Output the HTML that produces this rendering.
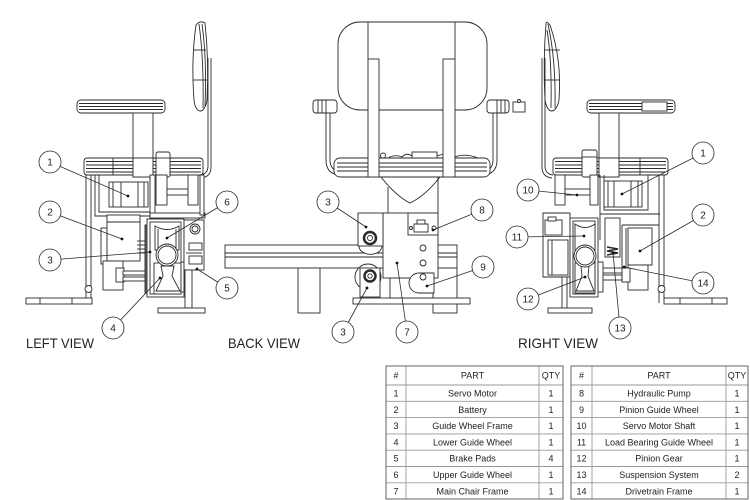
<!DOCTYPE html>
<html><head><meta charset="utf-8">
<style>
html,body{margin:0;padding:0;background:#fff;}
svg{display:block}
text{font-family:"Liberation Sans",sans-serif;fill:#222;stroke:none}
</style></head><body>
<svg width="750" height="500" viewBox="0 0 750 500" xmlns="http://www.w3.org/2000/svg">
<rect x="0" y="0" width="750" height="500" fill="#fff"/>

<!-- ================= LEFT VIEW ================= -->
<g fill="#fff" stroke="#2a2a2a" stroke-width="0.9">
  <!-- backrest -->
  <path d="M196,25 Q200,20 205,23 Q209,60 207,100 Q205,111 200,111 Q195,110 194,100 Q191,60 196,25 Z"/>
  <path d="M199,24 Q204,60 203,108" fill="none"/>
  <path d="M202,24 Q207,60 205,106" fill="none"/>
  <line x1="193" y1="50" x2="206" y2="50"/>
  <line x1="193" y1="80" x2="207" y2="80"/>
  <!-- back post -->
  <path d="M208,58 V166 Q208,174 200,175" fill="none"/>
  <path d="M211,58 V167 Q211,177 201,178" fill="none"/>
  <!-- armrest -->
  <rect x="77" y="100" width="88" height="13" rx="4"/>
  <line x1="79" y1="103.5" x2="163" y2="103.5"/>
  <line x1="79" y1="106.5" x2="163" y2="106.5"/>
  <line x1="79" y1="109.5" x2="163" y2="109.5"/>
  <!-- armrest post -->
  <rect x="133" y="113" width="20" height="64"/>
  <!-- seat -->
  <rect x="84" y="158" width="119" height="17" rx="3"/>
  <line x1="86" y1="161.5" x2="201" y2="161.5"/>
  <line x1="86" y1="165" x2="201" y2="165"/>
  <line x1="86" y1="168.5" x2="201" y2="168.5"/>
  <line x1="86" y1="172" x2="201" y2="172"/>
  <line x1="113" y1="158" x2="113" y2="175"/>
  <line x1="170" y1="158" x2="170" y2="175"/>
  <rect x="133" y="158" width="20" height="19"/>
  <!-- clamp -->
  <rect x="156" y="152" width="14" height="25" rx="2"/>
  <line x1="156" y1="158" x2="170" y2="158"/>
  <!-- left frame -->
  <line x1="86" y1="175" x2="86" y2="302"/>
  <line x1="91" y1="175" x2="91" y2="298"/>
  <circle cx="88.5" cy="289" r="3.5"/>
  <rect x="26" y="298" width="66" height="6"/>
  <line x1="40" y1="298" x2="40" y2="304"/>
  <line x1="72" y1="298" x2="72" y2="304"/>
  <!-- motor bracket -->
  <path d="M95,175 V216 H150" fill="none"/>
  <path d="M99,175 V212 H150" fill="none"/>
  <rect x="109" y="182" width="39" height="25"/>
  <line x1="113" y1="182" x2="113" y2="207"/>
  <line x1="121" y1="182" x2="121" y2="207"/>
  <line x1="138" y1="182" x2="138" y2="207"/>
  <line x1="144" y1="182" x2="144" y2="207"/>
  <rect x="150" y="175" width="5" height="43"/>
  <rect x="156" y="175" width="11" height="30"/>
  <rect x="167" y="189" width="21" height="6"/>
  <rect x="188" y="175" width="10" height="30"/>
  <rect x="150" y="213" width="55" height="5"/>
  <rect x="200" y="175" width="4" height="40"/>
  <!-- battery -->
  <rect x="101" y="228" width="6" height="36"/>
  <rect x="107" y="215" width="33" height="46"/>
  <line x1="107" y1="222" x2="140" y2="222"/>
  <rect x="103" y="261" width="20" height="29"/>
  <rect x="116" y="268" width="8" height="14"/>
  <rect x="123" y="271" width="24" height="4"/>
  <rect x="123" y="277" width="24" height="4"/>
  <line x1="137" y1="241" x2="147" y2="241"/>
  <line x1="137" y1="245" x2="147" y2="245"/>
  <line x1="137" y1="249" x2="147" y2="249"/>
  <line x1="137" y1="253" x2="147" y2="253"/>
  <!-- wheel frame -->
  <rect x="145" y="225" width="3" height="68" fill="#666"/>
  <rect x="147" y="219" width="37" height="78"/>
  <rect x="150" y="222" width="31" height="72"/>
  <path d="M155,226 Q167,233 179,226 V250 H155 Z"/>
  <line x1="158" y1="229" x2="158" y2="250"/>
  <line x1="176" y1="229" x2="176" y2="250"/>
  <rect x="154" y="263" width="27" height="31"/>
  <path d="M161,266 L163,276 L156,291 L180,291 L172,276 L174,266 Z"/>
  <rect x="181" y="262" width="3" height="30"/>
  <circle cx="167" cy="255" r="11"/>
  <circle cx="167" cy="255" r="9"/>
  <!-- brake area -->
  <rect x="184" y="220" width="20" height="50"/>
  <circle cx="195" cy="229" r="5"/>
  <circle cx="195" cy="229" r="3"/>
  <rect x="189" y="243" width="13" height="7"/>
  <rect x="189" y="256" width="13" height="8"/>
  <line x1="186" y1="253" x2="202" y2="253"/>
  <!-- T beam -->
  <rect x="185" y="270" width="7" height="38"/>
  <rect x="158" y="308" width="47" height="5"/>
</g>

<!-- ================= BACK VIEW ================= -->
<g fill="#fff" stroke="#2a2a2a" stroke-width="0.9">
  <!-- rail -->
  <rect x="225" y="245" width="232" height="23"/>
  <line x1="225" y1="253" x2="457" y2="253"/>
  <line x1="225" y1="257" x2="457" y2="257"/>
  <rect x="298" y="268" width="22" height="45"/>
  <rect x="433" y="268" width="24" height="45"/>
  <rect x="353" y="298" width="117" height="6"/>
  <rect x="390" y="278" width="43" height="20"/>
  <!-- backrest -->
  <rect x="338" y="22" width="149" height="88" rx="22"/>
  <line x1="368" y1="22" x2="368" y2="59"/>
  <line x1="455" y1="22" x2="455" y2="59"/>
  <!-- armrests -->
  <path d="M326,113 V160 Q326,173 338,175" fill="none"/>
  <path d="M330,113 V160 Q330,170 340,172" fill="none"/>
  <path d="M497,113 V160 Q497,173 485,175" fill="none"/>
  <path d="M493,113 V160 Q493,170 483,172" fill="none"/>
  <rect x="313" y="100" width="24" height="13" rx="3"/>
  <line x1="318" y1="100" x2="318" y2="113"/>
  <line x1="322" y1="100" x2="322" y2="113"/>
  <line x1="326" y1="100" x2="326" y2="113"/>
  <rect x="487" y="100" width="22" height="13" rx="3"/>
  <line x1="497" y1="100" x2="497" y2="113"/>
  <line x1="501" y1="100" x2="501" y2="113"/>
  <line x1="505" y1="100" x2="505" y2="113"/>
  <rect x="513" y="102" width="12" height="10"/>
  <circle cx="519" cy="101" r="1.5"/>
  <!-- seat -->
  <rect x="334" y="158" width="156" height="19" rx="6"/>
  <line x1="337" y1="163" x2="487" y2="163"/>
  <line x1="337" y1="167" x2="487" y2="167"/>
  <line x1="337" y1="171" x2="487" y2="171"/>
  <circle cx="383" cy="155.5" r="2.5"/>
  <rect x="412" y="152" width="25" height="6"/>
  <path d="M388,158 Q395,154 402,157 Q407,152 412,156" fill="none"/>
  <path d="M437,156 Q447,152 455,157 Q465,153 478,158" fill="none"/>
  <!-- posts -->
  <rect x="368" y="59" width="11" height="118"/>
  <rect x="443" y="59" width="12" height="118"/>
  <!-- V and upper block -->
  <path d="M381,177 Q396,196 410,203 Q425,196 440,177" fill="none"/>
  <line x1="388" y1="187" x2="388" y2="213"/>
  <line x1="438" y1="177" x2="438" y2="213"/>
  <!-- main frame 7 -->
  <rect x="383" y="213" width="55" height="65"/>
  <rect x="408" y="213" width="30" height="22"/>
  <rect x="414" y="224" width="14" height="8"/>
  <rect x="417" y="220" width="8" height="4"/>
  <circle cx="411" cy="228" r="1.5"/>
  <circle cx="434" cy="228" r="2"/>
  <circle cx="423" cy="248" r="3"/>
  <circle cx="423" cy="263" r="3"/>
  <circle cx="423" cy="277" r="3"/>
  <!-- upper wheel 3 -->
  <path d="M359,246 A11,8 0 0 0 382,246" />
  <rect x="358" y="213" width="25" height="33"/>
  <circle cx="370" cy="238" r="6" stroke-width="2.5"/>
  <circle cx="370" cy="238" r="2.5"/>
  <!-- lower wheel 3 -->
  <circle cx="368" cy="277" r="13"/>
  <rect x="360" y="268" width="20" height="29"/>
  <circle cx="370" cy="276" r="5.5" stroke-width="2.5"/>
  <circle cx="370" cy="276" r="2.2"/>
  <!-- wheel 9 -->
  <path d="M434,273 H419 A10,10 0 0 0 419,293 H434 Z"/>
  <circle cx="423" cy="277" r="3"/>
</g>

<!-- ================= RIGHT VIEW ================= -->
<g fill="#fff" stroke="#2a2a2a" stroke-width="0.9">
  <!-- backrest -->
  <path d="M550,25 Q546,20 546,24 Q543,60 545,100 Q547,111 552,111 Q557,110 559,100 Q562,60 550,25 Z"/>
  <path d="M548,24 Q556,60 555,108" fill="none"/>
  <path d="M547,30 Q552,60 551,108" fill="none"/>
  <line x1="545" y1="50" x2="560" y2="50"/>
  <line x1="545" y1="80" x2="560" y2="80"/>
  <!-- back post -->
  <path d="M545,58 V166 Q545,174 553,175" fill="none"/>
  <path d="M542,58 V167 Q542,177 552,178" fill="none"/>
  <!-- armrest -->
  <rect x="587" y="100" width="88" height="13" rx="4"/>
  <line x1="589" y1="103.5" x2="673" y2="103.5"/>
  <line x1="589" y1="106.5" x2="673" y2="106.5"/>
  <line x1="589" y1="109.5" x2="673" y2="109.5"/>
  <rect x="642" y="102" width="25" height="9"/>
  <rect x="599" y="113" width="20" height="64"/>
  <!-- seat -->
  <rect x="553" y="158" width="115" height="17" rx="3"/>
  <line x1="555" y1="161.5" x2="666" y2="161.5"/>
  <line x1="555" y1="165" x2="666" y2="165"/>
  <line x1="555" y1="168.5" x2="666" y2="168.5"/>
  <line x1="555" y1="172" x2="666" y2="172"/>
  <line x1="640" y1="158" x2="640" y2="175"/>
  <rect x="599" y="158" width="20" height="19"/>
  <rect x="582" y="150" width="15" height="27" rx="2"/>
  <line x1="582" y1="157" x2="597" y2="157"/>
  <!-- 10 -->
  <rect x="555" y="175" width="10" height="30"/>
  <rect x="565" y="189" width="25" height="6"/>
  <rect x="590" y="175" width="8" height="30"/>
  <!-- motor bracket -->
  <path d="M600,175 V240" fill="none"/>
  <path d="M604,175 V210 H648 V175" fill="none"/>
  <path d="M600,214 H660" fill="none"/>
  <rect x="604" y="181" width="38" height="26"/>
  <line x1="608" y1="181" x2="608" y2="207"/>
  <line x1="614" y1="181" x2="614" y2="207"/>
  <line x1="631" y1="181" x2="631" y2="207"/>
  <line x1="638" y1="181" x2="638" y2="207"/>
  <!-- right frame -->
  <line x1="659" y1="175" x2="659" y2="303"/>
  <line x1="664" y1="175" x2="664" y2="298"/>
  <circle cx="661.5" cy="289" r="3.5"/>
  <rect x="664" y="298" width="63" height="6"/>
  <line x1="680" y1="298" x2="680" y2="304"/>
  <line x1="712" y1="298" x2="712" y2="304"/>
  <!-- left box -->
  <path d="M543,213 H570 V277 H543 Z"/>
  <rect x="545" y="220" width="17" height="15"/>
  <rect x="548" y="217" width="8" height="4"/>
  <rect x="548" y="240" width="20" height="35"/>
  <line x1="552" y1="240" x2="552" y2="275"/>
  <!-- wheel frame 11 -->
  <rect x="570" y="218" width="28" height="79"/>
  <rect x="573" y="221" width="22" height="73"/>
  <path d="M575,224 Q585,231 595,224 V250 H575 Z"/>
  <rect x="575" y="263" width="20" height="30"/>
  <path d="M581,266 L582,276 L576,291 L594,291 L588,276 L589,266 Z"/>
  <circle cx="585" cy="256" r="11"/>
  <circle cx="585" cy="256" r="9"/>
  <!-- T beam -->
  <rect x="562" y="277" width="5" height="31"/>
  <rect x="548" y="308" width="44" height="5"/>
  <!-- suspension 13 -->
  <rect x="605" y="218" width="15" height="39"/>
  <path d="M607,247 L618,249 L607,251 L618,253 L607,255" fill="none" stroke-width="1.4"/>
  <!-- battery frame -->
  <path d="M622,225 H659" fill="none"/>
  <path d="M622,225 V272 M626,228 V268" fill="none"/>
  <rect x="628" y="228" width="24" height="37"/>
  <rect x="628" y="265" width="20" height="25"/>
  <rect x="622" y="268" width="8" height="14"/>
  <rect x="600" y="268" width="22" height="5"/>
  <rect x="600" y="275" width="22" height="5"/>
  <rect x="598" y="262" width="5" height="30"/>
</g>

<!-- ================= CALLOUTS ================= -->
<g stroke="#2a2a2a" stroke-width="0.8" fill="none">
  <line x1="50" y1="162" x2="128" y2="196"/>
  <line x1="50" y1="212" x2="122" y2="239"/>
  <line x1="50" y1="260" x2="150" y2="252"/>
  <line x1="113" y1="328" x2="160" y2="278"/>
  <line x1="227" y1="288" x2="197" y2="269"/>
  <line x1="227" y1="202" x2="167" y2="238"/>
  <line x1="328" y1="202" x2="366" y2="227"/>
  <line x1="482" y1="210" x2="433" y2="230"/>
  <line x1="483" y1="267" x2="427" y2="286"/>
  <line x1="343" y1="332" x2="367" y2="288"/>
  <line x1="407" y1="332" x2="397" y2="263"/>
  <line x1="703" y1="153" x2="622" y2="194"/>
  <line x1="703" y1="215" x2="640" y2="251"/>
  <line x1="528" y1="190" x2="577" y2="195"/>
  <line x1="517" y1="237" x2="584" y2="236"/>
  <line x1="528" y1="299" x2="585" y2="277"/>
  <line x1="620" y1="328" x2="613" y2="253"/>
  <line x1="703" y1="283" x2="624" y2="267"/>
</g>
<g fill="#111">
  <circle cx="128" cy="196" r="1.4"/><circle cx="122" cy="239" r="1.4"/>
  <circle cx="150" cy="252" r="1.4"/><circle cx="160" cy="278" r="1.4"/>
  <circle cx="197" cy="269" r="1.4"/><circle cx="167" cy="238" r="1.4"/>
  <circle cx="366" cy="227" r="1.4"/><circle cx="433" cy="230" r="1.4"/>
  <circle cx="427" cy="286" r="1.4"/><circle cx="367" cy="288" r="1.4"/>
  <circle cx="397" cy="263" r="1.4"/><circle cx="622" cy="194" r="1.4"/>
  <circle cx="640" cy="251" r="1.4"/><circle cx="577" cy="195" r="1.4"/>
  <circle cx="584" cy="236" r="1.4"/><circle cx="585" cy="277" r="1.4"/>
  <circle cx="613" cy="253" r="1.4"/><circle cx="624" cy="267" r="1.4"/>
</g>
<g fill="#fff" stroke="#2a2a2a" stroke-width="0.8">
  <circle cx="50" cy="162" r="11"/><circle cx="50" cy="212" r="11"/>
  <circle cx="50" cy="260" r="11"/><circle cx="113" cy="328" r="11"/>
  <circle cx="227" cy="288" r="11"/><circle cx="227" cy="202" r="11"/>
  <circle cx="328" cy="202" r="11"/><circle cx="482" cy="210" r="11"/>
  <circle cx="483" cy="267" r="11"/><circle cx="343" cy="332" r="11"/>
  <circle cx="407" cy="332" r="11"/><circle cx="703" cy="153" r="11"/>
  <circle cx="703" cy="215" r="11"/><circle cx="528" cy="190" r="11"/>
  <circle cx="517" cy="237" r="11"/><circle cx="528" cy="299" r="11"/>
  <circle cx="620" cy="328" r="11"/><circle cx="703" cy="283" r="11"/>
</g>
<g font-size="10" text-anchor="middle">
  <text x="50" y="165.5">1</text><text x="50" y="215.5">2</text>
  <text x="50" y="263.5">3</text><text x="113" y="331.5">4</text>
  <text x="227" y="291.5">5</text><text x="227" y="205.5">6</text>
  <text x="328" y="205.5">3</text><text x="482" y="213.5">8</text>
  <text x="483" y="270.5">9</text><text x="343" y="335.5">3</text>
  <text x="407" y="335.5">7</text><text x="703" y="156.5">1</text>
  <text x="703" y="218.5">2</text><text x="528" y="193.5">10</text>
  <text x="517" y="240.5">11</text><text x="528" y="302.5">12</text>
  <text x="620" y="331.5">13</text><text x="703" y="286.5">14</text>
</g>

<!-- view labels -->
<g font-size="14">
  <text x="26" y="348" textLength="68" lengthAdjust="spacingAndGlyphs">LEFT VIEW</text>
  <text x="228" y="348" textLength="72" lengthAdjust="spacingAndGlyphs">BACK VIEW</text>
  <text x="518" y="348" textLength="80" lengthAdjust="spacingAndGlyphs">RIGHT VIEW</text>
</g>

<!-- ================= TABLES ================= -->
<g stroke="#999" stroke-width="0.9" fill="none">
  <line x1="386" y1="385" x2="563" y2="385"/>
  <line x1="386" y1="401.3" x2="563" y2="401.3"/>
  <line x1="386" y1="417.6" x2="563" y2="417.6"/>
  <line x1="386" y1="433.9" x2="563" y2="433.9"/>
  <line x1="386" y1="450.2" x2="563" y2="450.2"/>
  <line x1="386" y1="466.5" x2="563" y2="466.5"/>
  <line x1="386" y1="482.8" x2="563" y2="482.8"/>
  <line x1="406" y1="366" x2="406" y2="499"/>
  <line x1="539" y1="366" x2="539" y2="499"/>
  <line x1="571" y1="385" x2="748" y2="385"/>
  <line x1="571" y1="401.3" x2="748" y2="401.3"/>
  <line x1="571" y1="417.6" x2="748" y2="417.6"/>
  <line x1="571" y1="433.9" x2="748" y2="433.9"/>
  <line x1="571" y1="450.2" x2="748" y2="450.2"/>
  <line x1="571" y1="466.5" x2="748" y2="466.5"/>
  <line x1="571" y1="482.8" x2="748" y2="482.8"/>
  <line x1="592" y1="366" x2="592" y2="499"/>
  <line x1="726" y1="366" x2="726" y2="499"/>
</g>
<g stroke="#555" stroke-width="0.9" fill="none">
  <rect x="386" y="366" width="177" height="133"/>
  <rect x="571" y="366" width="177" height="133"/>
</g>
<g font-size="9" text-anchor="middle">
  <text x="396" y="378.5">#</text><text x="472.5" y="378.5">PART</text><text x="551" y="378.5">QTY</text>
  <text x="396" y="396.5">1</text><text x="472.5" y="396.5">Servo Motor</text><text x="551" y="396.5">1</text>
  <text x="396" y="412.8">2</text><text x="472.5" y="412.8">Battery</text><text x="551" y="412.8">1</text>
  <text x="396" y="429.1">3</text><text x="472.5" y="429.1">Guide Wheel Frame</text><text x="551" y="429.1">1</text>
  <text x="396" y="445.4">4</text><text x="472.5" y="445.4">Lower Guide Wheel</text><text x="551" y="445.4">1</text>
  <text x="396" y="461.7">5</text><text x="472.5" y="461.7">Brake Pads</text><text x="551" y="461.7">4</text>
  <text x="396" y="478">6</text><text x="472.5" y="478">Upper Guide Wheel</text><text x="551" y="478">1</text>
  <text x="396" y="494.3">7</text><text x="472.5" y="494.3">Main Chair Frame</text><text x="551" y="494.3">1</text>

  <text x="581.5" y="378.5">#</text><text x="659" y="378.5">PART</text><text x="737" y="378.5">QTY</text>
  <text x="581.5" y="396.5">8</text><text x="659" y="396.5">Hydraulic Pump</text><text x="737" y="396.5">1</text>
  <text x="581.5" y="412.8">9</text><text x="659" y="412.8">Pinion Guide Wheel</text><text x="737" y="412.8">1</text>
  <text x="581.5" y="429.1">10</text><text x="659" y="429.1">Servo Motor Shaft</text><text x="737" y="429.1">1</text>
  <text x="581.5" y="445.4">11</text><text x="659" y="445.4">Load Bearing Guide Wheel</text><text x="737" y="445.4">1</text>
  <text x="581.5" y="461.7">12</text><text x="659" y="461.7">Pinion Gear</text><text x="737" y="461.7">1</text>
  <text x="581.5" y="478">13</text><text x="659" y="478">Suspension System</text><text x="737" y="478">2</text>
  <text x="581.5" y="494.3">14</text><text x="659" y="494.3">Drivetrain Frame</text><text x="737" y="494.3">1</text>
</g>
</svg>
</body></html>
